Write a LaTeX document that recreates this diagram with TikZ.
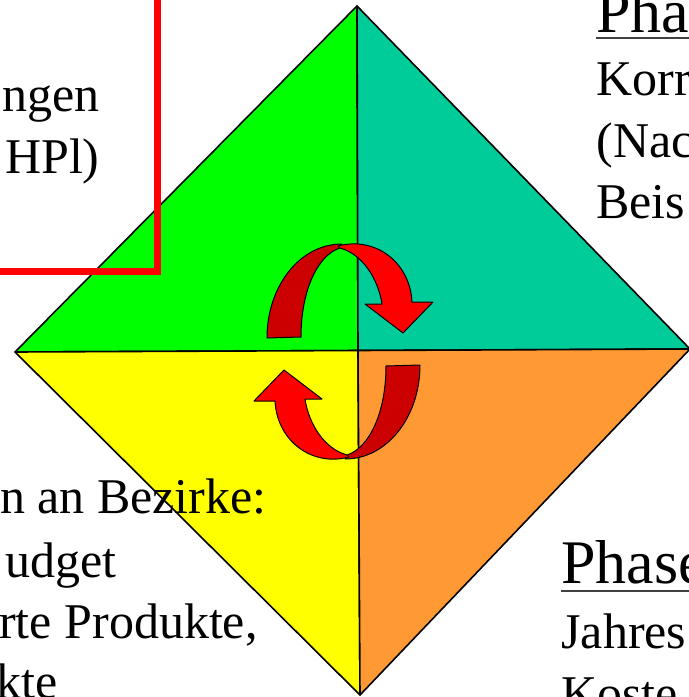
\documentclass[tikz,border=0pt]{standalone}
\usepackage{fontspec}
\setmainfont{Liberation Serif}
\definecolor{qgreen}{HTML}{00FF00}
\definecolor{qteal}{HTML}{00CC99}
\definecolor{qyellow}{HTML}{FFFF00}
\definecolor{qorange}{HTML}{FF9933}
\definecolor{arrowred}{HTML}{FF0000}
\definecolor{arrowdark}{HTML}{CC0000}
\tikzset{
	quarter/.style={draw=black, line width=0.8pt, line join=round},
	txt/.style={inner sep=0pt, font=\fontsize{25}{30}\selectfont},
	head/.style={inner sep=0pt, font=\fontsize{31}{37}\selectfont},
	back/.style={fill=arrowdark, draw=black, line width=0.5pt, line join=round},
	front/.style={fill=arrowred, draw=black, line width=0.5pt, line join=round},
	uline/.style={line width=1pt, draw=black!75}
}
% one turning arrow (the upper one, in pixel units)
\newcommand{\turnarrow}{%
	\filldraw[back] (267,338) .. controls (267,286) and (300,244) .. (342,244)
		-- (340,248) .. controls (318,255) and (301,290) .. (301,337) -- cycle;
	\filldraw[front] (338,246) .. controls (375,236) and (410,262) .. (412,302)
		-- (433,302) -- (403,333) -- (365,304) -- (382,304)
		.. controls (378,278) and (362,254) .. (340,248) -- cycle;
}

\begin{document}
\begin{tikzpicture}[x=0.5pt, y=-0.5pt]
	\useasboundingbox (0,0) rectangle (689,697);
	\clip (0,0) rectangle (689,697);
	% Corners of the diamond
	\coordinate (top) at (357,6);
	\coordinate (left) at (15,352);
	\coordinate (right) at (690,349);
	\coordinate (bottom) at (360,695);
	\coordinate (mid) at (358,350.5);
	% Quarters
	\filldraw[quarter, fill=qgreen] (left) -- (top) -- (mid) -- cycle;
	\filldraw[quarter, fill=qteal] (top) -- (right) -- (mid) -- cycle;
	\filldraw[quarter, fill=qyellow] (left) -- (mid) -- (bottom) -- cycle;
	\filldraw[quarter, fill=qorange] (mid) -- (right) -- (bottom) -- cycle;
	% Red frame (top left)
	\draw[arrowred, line width=3.5pt] (-20,-20) rectangle (157,271);
	% Arrows in the middle
	\turnarrow
	\begin{scope}[rotate around={180:(343.5,351.5)}]
		\turnarrow
	\end{scope}
	% Text (top left)
	\node[txt, anchor=base east] (ngen) at (100,111) {ngen};
	\node[txt, anchor=base east] (hpl) at (100,173) {HPl)};
	% Text (top right)
	\node[head, anchor=base west] (pha) at (596,32) {Pha};
	\draw[uline] (pha.base west) ++(0,6) -- ++(120,0);
	\node[txt, anchor=base west] (korr) at (596,95) {Korr};
	\node[txt, anchor=base west] (nac) at (596,157) {(Nac};
	\node[txt, anchor=base west] (beis) at (596,218) {Beis};
	% Text (bottom left)
	\node[txt, anchor=base east] (bezirke) at (267,513) {n an Bezirke:};
	\node[txt, anchor=base east] (budget) at (117,577) {udget};
	\node[txt, anchor=base east] (produkte) at (258,638) {rte Produkte,};
	\node[txt, anchor=base east] (kte) at (58,698) {kte};
	% Text (bottom right)
	\node[head, anchor=base west] (phase) at (561,583) {Phase};
	\draw[uline] (phase.base west) ++(0,8) -- ++(150,0);
	\node[txt, anchor=base west] (jahres) at (561,648) {Jahres};
	\node[txt, anchor=base west] (koste) at (561,710) {Koste};
\end{tikzpicture}
\end{document}
